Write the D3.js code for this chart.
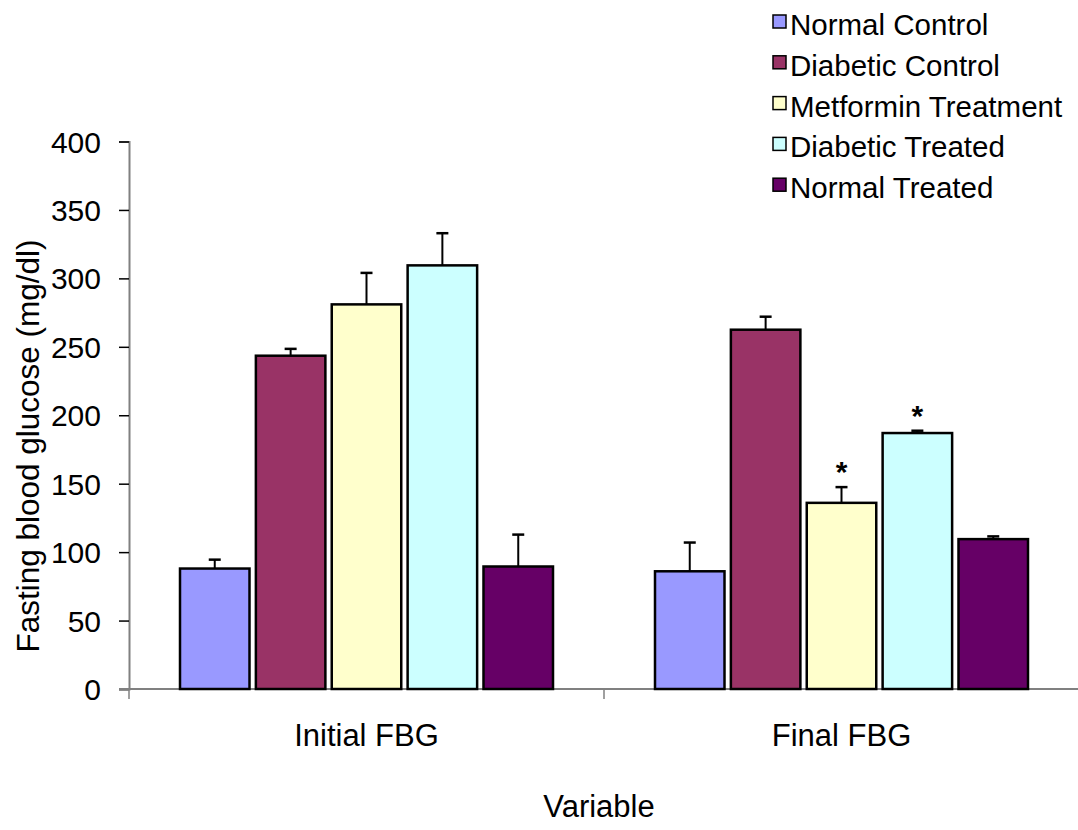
<!DOCTYPE html>
<html>
<head>
<meta charset="utf-8">
<script src="https://cdn.jsdelivr.net/npm/d3@7"></script>
<style>
body { margin: 0; background: #fff; }
text { font-family: "Liberation Sans", Arial, sans-serif; fill: #000; }
</style>
</head>
<body>
<div id="chart"></div>
<script>
var categories = ["Initial FBG", "Final FBG"];
var groups = ["Normal Control", "Diabetic Control", "Metformin Treatment", "Diabetic Treated", "Normal Treated"];
var colors = ["#9999ff", "#993366", "#ffffcc", "#ccffff", "#660066"];
var initialMeans = [88, 243.5, 281, 309.5, 89.5];
var initialErrors = [6.5, 5, 23, 23.5, 23.3];
var finalMeans = [86, 262.5, 136, 187, 109.5];
var finalErrors = [21, 9.5, 11.5, 1.7, 2];
var finalStars = [false, false, true, true, false];
var yTicks = [0, 50, 100, 150, 200, 250, 300, 350, 400];

function buildRows() {
	var rows = [];
	var i = 0;
	for (i; i < groups.length; i++) {
		rows.push({ cat: categories[0], group: groups[i], color: colors[i], mean: initialMeans[i], err: initialErrors[i], star: false });
		rows.push({ cat: categories[1], group: groups[i], color: colors[i], mean: finalMeans[i], err: finalErrors[i], star: finalStars[i] });
	}
	return rows;
}

function drawChart() {
	var svg = d3.select("#chart").append("svg").attr("width", 1078).attr("height", 830);
	var rows = buildRows();

	var x0 = d3.scaleBand().domain(categories).range([129, 1079]);
	var x1 = d3.scaleBand().domain(groups).range([51, 424]).paddingInner(0.084);
	var y = d3.scaleLinear().domain([0, 400]).range([689, 141.5]);

	// y axis
	var yAxis = svg.append("g").attr("transform", "translate(129,0)")
		.call(d3.axisLeft(y).tickValues(yTicks).tickSize(10).tickPadding(18));
	yAxis.select(".domain").attr("stroke", "#808080").attr("stroke-width", 2);
	yAxis.selectAll(".tick line").attr("stroke", "#000").attr("stroke-width", 1.5);
	yAxis.selectAll(".tick text").style("font-size", "30px").style("font-family", "Liberation Sans, Arial, sans-serif").attr("dy", "0.35em");

	// x axis
	var xAxis = svg.append("g").attr("transform", "translate(0,689)")
		.call(d3.axisBottom(x0).tickSize(0).tickPadding(35));
	xAxis.select(".domain").attr("stroke", "#808080").attr("stroke-width", 2).attr("d", "M119,0H1079");
	xAxis.selectAll(".tick text").style("font-size", "31px").style("font-family", "Liberation Sans, Arial, sans-serif");
	var bounds = [129, 604, 1079];
	xAxis.selectAll(".cat-tick").data(bounds).enter().append("line")
		.attr("x1", function(d) { return d; }).attr("x2", function(d) { return d; })
		.attr("y1", 0).attr("y2", 10).attr("stroke", "#808080").attr("stroke-width", 1.5);

	// bars
	var bars = svg.append("g");
	bars.selectAll("line.err").data(rows).enter().append("line")
		.attr("x1", function(d) { return x0(d.cat) + x1(d.group) + x1.bandwidth() / 2; })
		.attr("x2", function(d) { return x0(d.cat) + x1(d.group) + x1.bandwidth() / 2; })
		.attr("y1", function(d) { return y(d.mean); })
		.attr("y2", function(d) { return y(d.mean + d.err); })
		.attr("stroke", "#000").attr("stroke-width", 2);
	bars.selectAll("line.cap").data(rows).enter().append("line")
		.attr("x1", function(d) { return x0(d.cat) + x1(d.group) + x1.bandwidth() / 2 - 6; })
		.attr("x2", function(d) { return x0(d.cat) + x1(d.group) + x1.bandwidth() / 2 + 6; })
		.attr("y1", function(d) { return y(d.mean + d.err); })
		.attr("y2", function(d) { return y(d.mean + d.err); })
		.attr("stroke", "#000").attr("stroke-width", 2.5);
	bars.selectAll("rect").data(rows).enter().append("rect")
		.attr("x", function(d) { return x0(d.cat) + x1(d.group); })
		.attr("y", function(d) { return y(d.mean); })
		.attr("width", x1.bandwidth())
		.attr("height", function(d) { return y(0) - y(d.mean); })
		.attr("fill", function(d) { return d.color; })
		.attr("stroke", "#000").attr("stroke-width", 2.5);

	// significance marks
	bars.selectAll("text.star").data(rows.filter(function(d) { return d.star; })).enter().append("text")
		.attr("x", function(d) { return x0(d.cat) + x1(d.group) + x1.bandwidth() / 2; })
		.attr("y", function(d) { return y(d.mean + d.err) - 5; })
		.attr("text-anchor", "middle").style("font-size", "30px").style("font-weight", "bold")
		.text("*");

	// axis titles
	svg.append("text").attr("x", 599).attr("y", 817).attr("text-anchor", "middle")
		.style("font-size", "31px").text("Variable");
	svg.append("text").attr("transform", "translate(39,446) rotate(-90)").attr("text-anchor", "middle")
		.style("font-size", "31.5px").text("Fasting blood glucose (mg/dl)");

	// legend
	var legend = svg.append("g");
	var item = legend.selectAll("g").data(groups).enter().append("g")
		.attr("transform", function(d, i) { return "translate(773," + (35 + i * 40.8) + ")"; });
	item.append("rect").attr("x", 0).attr("y", -20).attr("width", 13).attr("height", 13)
		.attr("fill", function(d, i) { return colors[i]; }).attr("stroke", "#000").attr("stroke-width", 1.5);
	item.append("text").attr("x", 17).attr("y", 0).style("font-size", "29.5px").text(function(d) { return d; });
}

drawChart();
</script>
</body>
</html>
